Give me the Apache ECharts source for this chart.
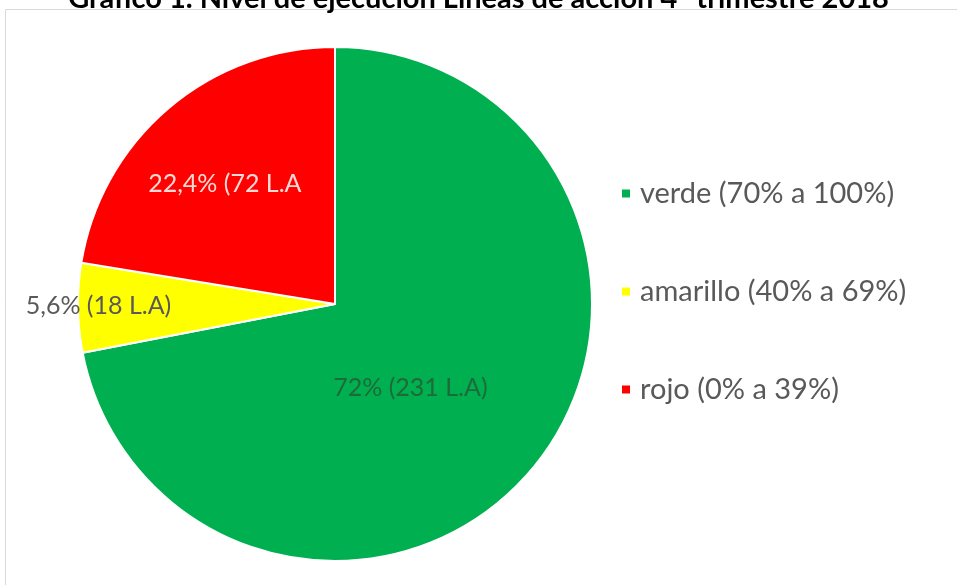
<!DOCTYPE html>
<html>
<head>
<meta charset="utf-8">
<script src="https://cdn.jsdelivr.net/npm/echarts@6/dist/echarts.min.js"></script>
<style>
html,body{margin:0;padding:0;background:#fff;}
#chart{width:957px;height:585px;}
</style>
</head>
<body>
<div id="chart"></div>
<script>
const titleText = 'Gráfico 1. Nivel de ejecución Líneas de acción 4° trimestre 2018';
const categories = ['verde (70% a 100%)', 'amarillo (40% a 69%)', 'rojo (0% a 39%)'];
const values = [231, 18, 72];
const labelTexts = ['72% (231 L.A)', '5,6% (18 L.A)', '22,4% (72 L.A'];

const colors = ['#00b050', '#ffff00', '#ff0000'];
const labelColors = ['#1e6b3a', '#595959', '#fbd9d5'];
const labelOffsets = [[-26, 0], [-105, 0], [-25, -20]];

const chart = echarts.init(document.getElementById('chart'), null, {renderer: 'canvas'});
const data = categories.map((c, i) => ({
  name: c,
  value: values[i],
  itemStyle: {color: colors[i]},
  label: {color: labelColors[i], offset: labelOffsets[i], formatter: labelTexts[i]}
}));

chart.setOption({
  backgroundColor: '#ffffff',
  animation: false,
  title: {
    text: titleText,
    left: 'center',
    top: -21,
    textStyle: {fontFamily: 'Lato', fontWeight: 'bold', fontSize: 29, color: '#000'}
  },
  graphic: [{
    type: 'rect',
    shape: {x: 5.5, y: 9.5, width: 1000, height: 600},
    style: {fill: '#ffffff', stroke: '#d9d9d9', lineWidth: 1},
    z: -1
  }],
  legend: {
    orient: 'vertical',
    left: 615,
    top: 174,
    icon: 'rect',
    itemWidth: 10,
    itemHeight: 10,
    itemGap: 69,
    data: categories,
    textStyle: {fontFamily: 'Lato', fontSize: 29, color: '#595959', padding: [0, 0, 0, 4]}
  },
  series: [{
    type: 'pie',
    center: [335, 304],
    radius: [0, 257],
    startAngle: 90,
    clockwise: true,
    data: data,
    itemStyle: {borderColor: '#ffffff', borderWidth: 2},
    label: {
      show: true,
      position: 'inside',
      fontFamily: 'Lato',
      fontSize: 25
    },
    labelLine: {show: false},
    emphasis: {disabled: true}
  }]
});
</script>
</body>
</html>
